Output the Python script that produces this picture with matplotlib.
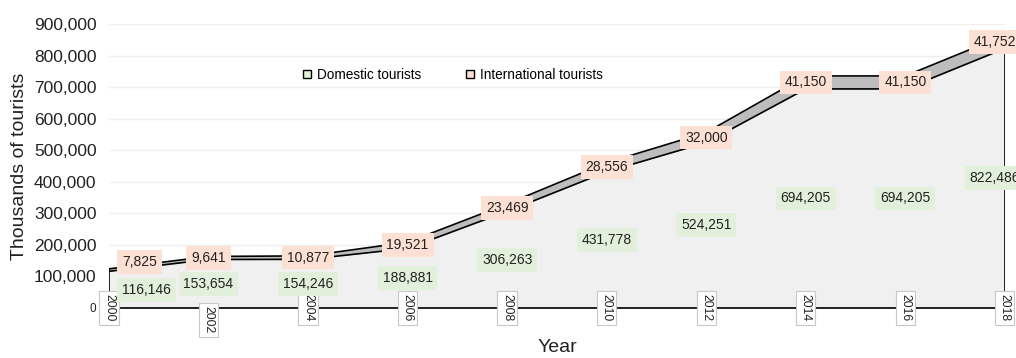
import numpy as np
import matplotlib.pyplot as plt
from matplotlib.ticker import FuncFormatter
from matplotlib.lines import Line2D

plt.rcParams['font.family'] = ['Liberation Sans', 'DejaVu Sans']

years = [2000, 2002, 2004, 2006, 2008, 2010, 2012, 2014, 2016, 2018]
domestic = [116146, 153654, 154246, 188881, 306263, 431778, 524251, 694205, 694205, 822486]
international = [7825, 9641, 10877, 19521, 23469, 28556, 32000, 41150, 41150, 41752]

dom_label_color = '#e2efda'
intl_label_color = '#fbe0d3'

dom = np.array(domestic)
intl = np.array(international)
total = dom + intl

fig = plt.figure(figsize=(10.16, 3.58), dpi=100)
ax = fig.add_axes([0.1073, 0.1397, 0.8817, 0.7933])

ax.set_xlim(years[0], years[-1])
ax.set_ylim(0, 900000)
ax.set_yticks(np.arange(0, 900001, 100000))
ax.grid(axis='y', color='#eeeeee', linewidth=1.0, zorder=0)
ax.set_axisbelow(True)

# stacked areas
ax.fill_between(years, 0, dom, color='#f0f0f0', zorder=2, linewidth=0)
ax.fill_between(years, dom, total, color='#bdbdbd', zorder=2, linewidth=0)
ax.plot(years, dom, color='black', linewidth=1.2, zorder=3)
ax.plot(years, total, color='black', linewidth=1.2, zorder=3)
ax.vlines([years[0], years[-1]], 0, [total[0], total[-1]], color='black', linewidth=1.2, zorder=3)

for s in ['top', 'right', 'left']:
    ax.spines[s].set_visible(False)
ax.spines['bottom'].set_color('black')
ax.spines['bottom'].set_linewidth(1.2)
ax.spines['bottom'].set_zorder(3)

ax.yaxis.set_major_formatter(FuncFormatter(lambda v, p: f'{int(v):,}'))
ax.tick_params(axis='y', length=0, pad=9, labelsize=12.5, labelcolor='#222222')
ax.tick_params(axis='x', length=0, labelbottom=False)
ax.get_yticklabels()[0].set_fontsize(8.5)
ax.set_ylabel('Thousands of tourists', fontsize=14, color='#222222', labelpad=4)
ax.set_xlabel('Year', fontsize=14, color='#222222', labelpad=22)

# year labels sitting on the axis line
for yr in years:
    dy = -12 if yr == 2002 else 0
    ax.annotate(str(yr), xy=(yr, 0), xycoords=('data', 'axes fraction'),
                xytext=(0, dy), textcoords='offset pixels',
                rotation=270, ha='center', va='center', fontsize=8.8, color='#222222',
                bbox=dict(boxstyle='square,pad=0.3', fc='white', ec='#c8c8c8', lw=0.8),
                zorder=5, annotation_clip=False)

# data labels (first/last nudged inward like the original)
n = len(years)
for i, yr in enumerate(years):
    if i == 0:
        ha, dx = 'left', 13
    elif i == n - 1:
        ha, dx = 'center', -10
    else:
        ha, dx = 'center', 0
    ax.annotate(f'{domestic[i]:,}', xy=(yr, dom[i] / 2), xytext=(dx, 0),
                textcoords='offset pixels', ha=ha, va='center',
                fontsize=10, color='#222222', zorder=6, annotation_clip=False,
                bbox=dict(boxstyle='square,pad=0.35', fc=dom_label_color, ec='none'))
    dy = 8 if i == 0 else 0
    ax.annotate(f'{international[i]:,}', xy=(yr, dom[i] + intl[i] / 2),
                xytext=(dx, dy), textcoords='offset pixels', ha=ha, va='center',
                fontsize=10, color='#222222', zorder=6, annotation_clip=False,
                bbox=dict(boxstyle='square,pad=0.35', fc=intl_label_color, ec='none'))

handles = [
    Line2D([], [], marker='s', linestyle='none', markersize=5.5, markerfacecolor=dom_label_color,
           markeredgecolor='black', markeredgewidth=1.0, label='Domestic tourists'),
    Line2D([], [], marker='s', linestyle='none', markersize=5.5, markerfacecolor=intl_label_color,
           markeredgecolor='black', markeredgewidth=1.0, label='International tourists'),
]
ax.legend(handles=handles, loc='center', bbox_to_anchor=(0.383, 0.82), ncol=2, frameon=False,
          fontsize=9.8, handletextpad=0.35, columnspacing=3.2, handlelength=0.8)

fig.savefig('out.png', dpi=100)
